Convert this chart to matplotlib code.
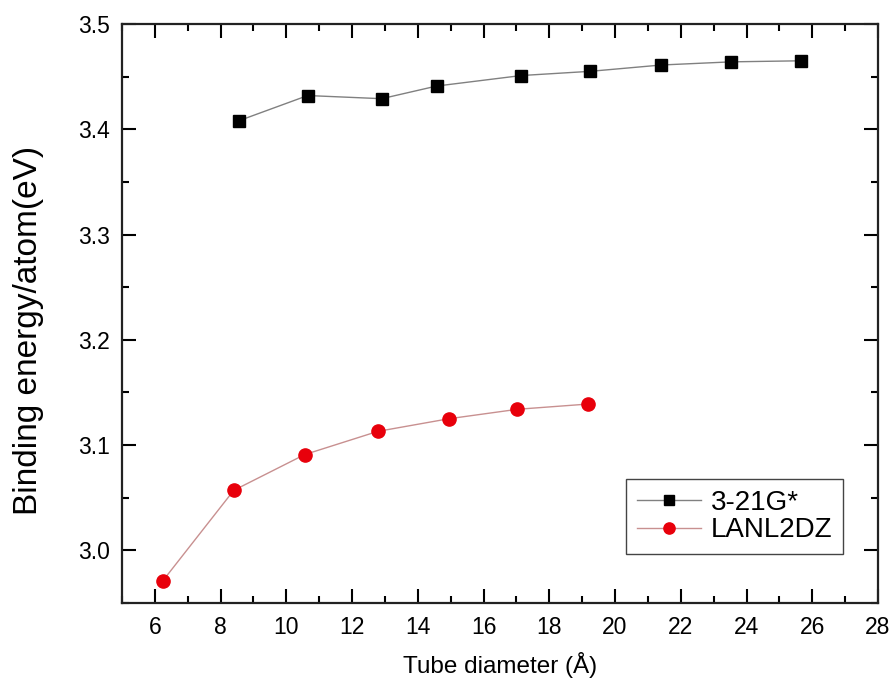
import matplotlib.pyplot as plt
from matplotlib.ticker import MultipleLocator

plt.rcParams['font.family'] = ['Liberation Sans', 'DejaVu Sans']

# 管径 (Å) 与每原子结合能 (eV)
d_321g = [8.55, 10.65, 12.9, 14.57, 17.15, 19.25, 21.41, 23.54, 25.67]
e_321g = [3.408, 3.432, 3.429, 3.441, 3.451, 3.455, 3.461, 3.464, 3.465]
d_lanl = [6.24, 8.4, 10.56, 12.78, 14.94, 17.03, 19.19]
e_lanl = [2.971, 3.057, 3.091, 3.113, 3.125, 3.134, 3.139]

fig = plt.figure(figsize=(8.95, 6.84), dpi=100)
ax = fig.add_axes([0.1363, 0.1184, 0.8447, 0.8466])

ax.plot(d_321g, e_321g, color='#808080', lw=1.0, marker='s', ms=9,
        mfc='black', mec='black', label='3-21G*')
ax.plot(d_lanl, e_lanl, color='#c89090', lw=1.0, marker='o', ms=9.5,
        mfc='#e8000b', mec='#e8000b', label='LANL2DZ')

ax.set_xlim(5, 28)
ax.set_ylim(2.95, 3.5)
ax.xaxis.set_major_locator(MultipleLocator(2))
ax.xaxis.set_minor_locator(MultipleLocator(1))
ax.yaxis.set_major_locator(MultipleLocator(0.1))
ax.yaxis.set_minor_locator(MultipleLocator(0.05))
ax.tick_params(which='both', direction='in', top=True, right=True,
               width=1.5, labelsize=16.5, pad=9)
ax.tick_params(which='major', length=10)
ax.tick_params(which='minor', length=5)
for s in ax.spines.values():
    s.set_linewidth(1.6)
    s.set_color('#222222')

ax.set_xlabel('Tube diameter (Å)', fontsize=17.5, labelpad=10)
ax.set_ylabel('Binding energy/atom(eV)', fontsize=24)
ax.yaxis.set_label_coords(-0.103, 0.47)

leg = ax.legend(loc='lower right', bbox_to_anchor=(0.954, 0.084), fontsize=20,
                fancybox=False, edgecolor='#444444', framealpha=1,
                handlelength=2.3, borderpad=0.4, labelspacing=0.05,
                borderaxespad=0, markerscale=0.85, handletextpad=0.35)
leg.get_frame().set_linewidth(1.0)

fig.savefig('out.png', dpi=100)
